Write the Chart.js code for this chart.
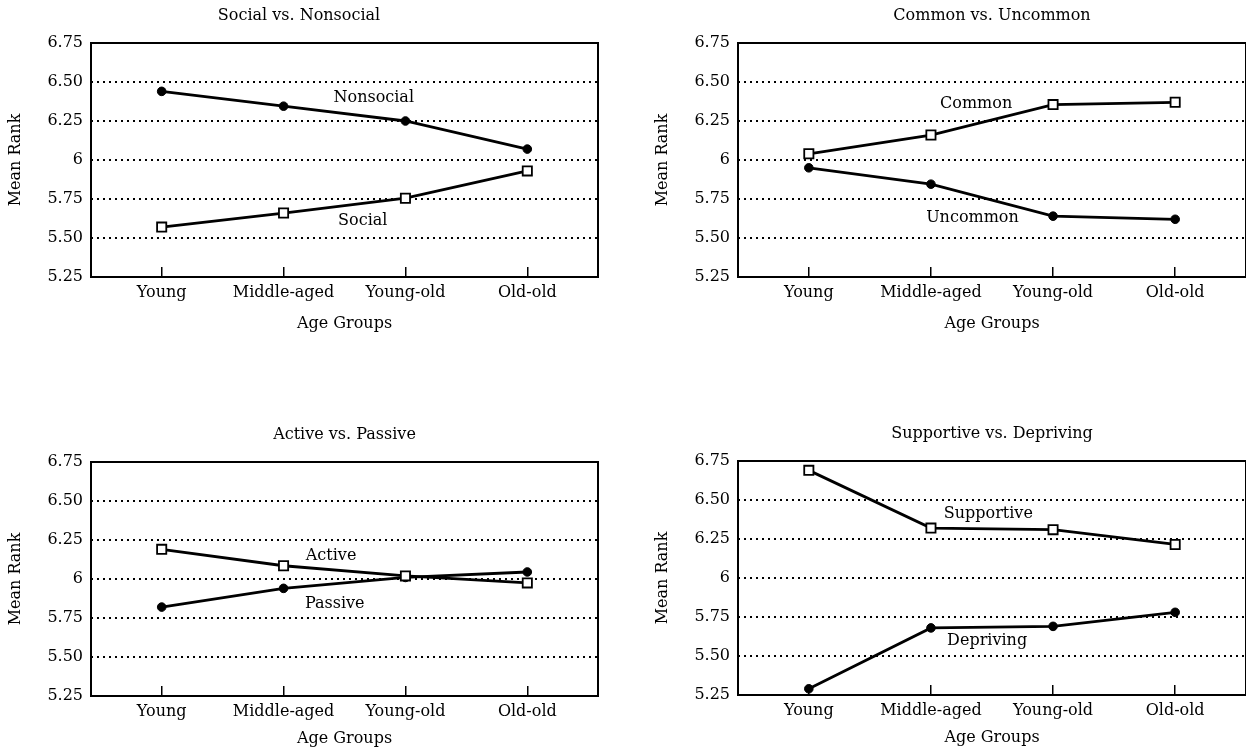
<!DOCTYPE html>
<html lang="en">
<head>
    <meta charset="UTF-8">
    <title>Mean Rank by Age Group</title>
    <script src="https://cdn.jsdelivr.net/npm/chart.js"></script>
    <style>
        html, body {
            margin: 0;
            padding: 0;
            background: #fff;
            overflow: hidden;
        }
        .panel {
            position: absolute;
        }
    </style>
</head>
<body>
    <div class="panel" style="left:0px; top:0px; width:656px; height:337px;"><canvas id="c1"></canvas></div>
    <div class="panel" style="left:647px; top:0px; width:599px; height:337px;"><canvas id="c2"></canvas></div>
    <div class="panel" style="left:0px; top:419px; width:608px; height:333px;"><canvas id="c3"></canvas></div>
    <div class="panel" style="left:647px; top:418px; width:599px; height:333px;"><canvas id="c4"></canvas></div>

    <script>
        // categories and tick labels
        const ageGroups = ['Young', 'Middle-aged', 'Young-old', 'Old-old'];
        const yTicks = [5.25, 5.50, 5.75, 6, 6.25, 6.50, 6.75];
        const yTickLabels = ['5.25', '5.50', '5.75', '6', '6.25', '6.50', '6.75'];

        // mean ranks
        const nonsocial  = [6.44, 6.345, 6.25, 6.07];
        const social     = [5.57, 5.66, 5.755, 5.93];
        const common     = [6.04, 6.16, 6.355, 6.37];
        const uncommon   = [5.95, 5.845, 5.64, 5.62];
        const active     = [6.19, 6.085, 6.02, 5.975];
        const passive    = [5.82, 5.94, 6.01, 6.045];
        const supportive = [6.69, 6.32, 6.31, 6.215];
        const depriving  = [5.29, 5.68, 5.69, 5.78];

        Chart.defaults.font.family = '"DejaVu Serif", "Liberation Serif", serif';
        Chart.defaults.font.size = 16;
        Chart.defaults.color = '#000';

        // box around the plot area
        const framePlugin = {
            id: 'frame',
            afterDraw(chart) {
                const a = chart.chartArea;
                const ctx = chart.ctx;
                ctx.save();
                ctx.strokeStyle = '#000';
                ctx.lineWidth = 2;
                ctx.strokeRect(a.left, a.top, a.right - a.left, a.bottom - a.top);
                ctx.restore();
            }
        };

        // series names written next to the lines
        const lineLabelPlugin = {
            id: 'lineLabels',
            afterDatasetsDraw(chart, args, opts) {
                const ctx = chart.ctx;
                const xs = chart.scales.x, ys = chart.scales.y;
                ctx.save();
                ctx.fillStyle = '#000';
                ctx.font = '16px "DejaVu Serif", serif';
                ctx.textAlign = 'center';
                ctx.textBaseline = 'middle';
                (opts.items || []).forEach(it => {
                    ctx.fillText(it.text, xs.getPixelForValue(it.x), ys.getPixelForValue(it.y));
                });
                ctx.restore();
            }
        };

        function toPoints(values) {
            return values.map((v, i) => ({ x: i, y: v }));
        }

        function openSeries(name, values) {
            return {
                label: name,
                data: toPoints(values),
                borderColor: '#000',
                borderWidth: 2.8,
                pointStyle: 'rect',
                pointRadius: 6.5,
                pointBackgroundColor: '#fff',
                pointBorderColor: '#000',
                pointBorderWidth: 1.8,
                tension: 0
            };
        }

        function filledSeries(name, values) {
            return {
                label: name,
                data: toPoints(values),
                borderColor: '#000',
                borderWidth: 2.8,
                pointStyle: 'circle',
                pointRadius: 4.3,
                pointBackgroundColor: '#000',
                pointBorderColor: '#000',
                pointBorderWidth: 1,
                tension: 0
            };
        }

        function makeChart(id, title, datasets, labels, xAxisHeight, padRight, titleFull) {
            new Chart(document.getElementById(id), {
                type: 'line',
                data: { datasets },
                plugins: [framePlugin, lineLabelPlugin],
                options: {
                    responsive: true,
                    maintainAspectRatio: false,
                    animation: false,
                    layout: { autoPadding: false, padding: { left: 0, right: padRight, top: 0, bottom: 0 } },
                    plugins: {
                        legend: { display: false },
                        tooltip: { enabled: false },
                        title: {
                            display: true,
                            text: title,
                            fullSize: titleFull,
                            color: '#000',
                            font: { size: 16, weight: 'normal' },
                            padding: { top: 6, bottom: 17.8 }
                        },
                        lineLabels: { items: labels }
                    },
                    scales: {
                        x: {
                            type: 'linear',
                            min: -0.58,
                            max: 3.58,
                            afterBuildTicks: s => { s.ticks = ageGroups.map((g, i) => ({ value: i })); },
                            afterFit: s => { s.height = xAxisHeight; },
                            border: { display: false },
                            grid: {
                                display: true,
                                drawOnChartArea: false,
                                drawTicks: true,
                                tickLength: -10,
                                color: '#000',
                                lineWidth: 1.5
                            },
                            ticks: {
                                padding: 16.4,
                                maxRotation: 0,
                                autoSkip: false,
                                color: '#000',
                                callback: v => ageGroups[v]
                            },
                            title: {
                                display: true,
                                text: 'Age Groups',
                                color: '#000',
                                padding: { top: 4, bottom: 4 }
                            }
                        },
                        y: {
                            min: 5.25,
                            max: 6.75,
                            afterBuildTicks: s => { s.ticks = yTicks.map(v => ({ value: v })); },
                            afterFit: s => { s.width = 91; },
                            border: { display: false, dash: [2, 4] },
                            grid: {
                                drawTicks: false,
                                color: c => (c.tick && (c.tick.value === 5.25 || c.tick.value === 6.75)) ? 'rgba(0,0,0,0)' : '#000',
                                lineWidth: 2
                            },
                            ticks: {
                                padding: 8,
                                color: '#000',
                                callback: v => yTickLabels[yTicks.indexOf(v)]
                            },
                            title: {
                                display: true,
                                text: 'Mean Rank',
                                color: '#000',
                                padding: { top: 6, bottom: 4 }
                            }
                        }
                    }
                }
            });
        }

        makeChart('c1', 'Social vs. Nonsocial',
            [filledSeries('Nonsocial', nonsocial), openSeries('Social', social)],
            [{ text: 'Nonsocial', x: 1.74, y: 6.40 }, { text: 'Social', x: 1.65, y: 5.61 }], 60, 58, true);

        makeChart('c2', 'Common vs. Uncommon',
            [openSeries('Common', common), filledSeries('Uncommon', uncommon)],
            [{ text: 'Common', x: 1.37, y: 6.36 }, { text: 'Uncommon', x: 1.34, y: 5.63 }], 60, 0, false);

        makeChart('c3', 'Active vs. Passive',
            [openSeries('Active', active), filledSeries('Passive', passive)],
            [{ text: 'Active', x: 1.39, y: 6.15 }, { text: 'Passive', x: 1.42, y: 5.84 }], 56, 10, false);

        makeChart('c4', 'Supportive vs. Depriving',
            [openSeries('Supportive', supportive), filledSeries('Depriving', depriving)],
            [{ text: 'Supportive', x: 1.47, y: 6.41 }, { text: 'Depriving', x: 1.46, y: 5.60 }], 56, 0, false);
    </script>
</body>
</html>
